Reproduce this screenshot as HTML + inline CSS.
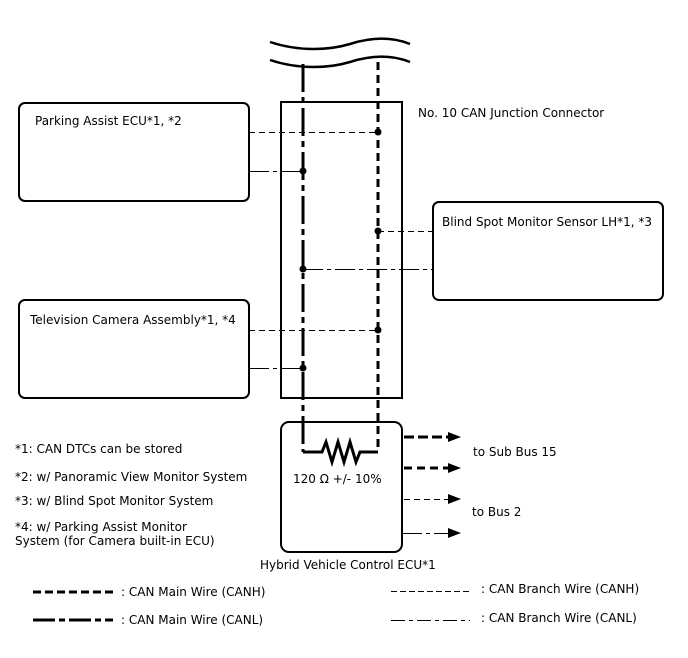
<!DOCTYPE html>
<html><head><meta charset="utf-8"><style>
body{margin:0;background:#fff}
svg{display:block}
text{font-family:"DejaVu Sans","Liberation Sans",sans-serif;font-size:12px;fill:#000}
</style></head><body>
<svg width="688" height="658" viewBox="0 0 688 658" xmlns="http://www.w3.org/2000/svg">
<g fill="none" stroke="#000">
<path d="M270 42 C300 52 330 50 350 44 C375 36 395 38 410 44" stroke-width="2.5"/>
<path d="M270 60 C300 70 330 68 350 62 C375 54 395 56 410 62" stroke-width="2.5"/>
<rect x="281" y="102" width="121" height="296" stroke-width="2"/>
<rect x="19" y="103" width="230" height="98" rx="6" stroke-width="2"/>
<rect x="433" y="202" width="230" height="98" rx="6" stroke-width="2"/>
<rect x="19" y="300" width="230" height="98" rx="6" stroke-width="2"/>
<rect x="281" y="422" width="121" height="130" rx="8" stroke-width="2"/>
<path d="M303 64 V452" stroke-width="3" stroke-dasharray="28 5 6 5"/>
<path d="M378 62 V452" stroke-width="3" stroke-dasharray="8 5"/>
<path d="M303 452 H322 l4 -10 l6 20 l6 -20 l6 20 l6 -20 l6 20 l4 -10 H378" stroke-width="3" stroke-linejoin="miter"/>
<g stroke-width="1.2" shape-rendering="crispEdges">
<path d="M249 132.5 H378" stroke-dasharray="6 4"/>
<path d="M249 171.5 H303" stroke-dasharray="20 4 4 4"/>
<path d="M378 231.5 H433" stroke-dasharray="6 4"/>
<path d="M303 269.5 H433" stroke-dasharray="20 4 4 4"/>
<path d="M249 330.5 H378" stroke-dasharray="6 4"/>
<path d="M249 368.5 H303" stroke-dasharray="20 4 4 4"/>
<path d="M404 499.5 H448" stroke-dasharray="6 4"/>
<path d="M402 533.5 H448" stroke-dasharray="20 4 4 4"/>
<path d="M391 591.5 H470" stroke-dasharray="6 3"/>
<path d="M391 620.5 H470" stroke-dasharray="14 4 4 4"/>
</g>
<path d="M404 437 H448" stroke-width="3" stroke-dasharray="10 4"/>
<path d="M404 468 H448" stroke-width="3" stroke-dasharray="8 5"/>
<path d="M33 592 H113" stroke-width="3" stroke-dasharray="8 4"/>
<path d="M33 620 H113" stroke-width="3" stroke-dasharray="22 4 6 4"/>
</g>
<g fill="#000">
<circle cx="378" cy="132" r="3.5"/><circle cx="303" cy="171" r="3.5"/>
<circle cx="378" cy="231" r="3.5"/><circle cx="303" cy="269" r="3.5"/>
<circle cx="378" cy="330" r="3.5"/><circle cx="303" cy="368" r="3.5"/>
<path d="M448 432 L461 437 L448 442Z"/><path d="M448 463 L461 468 L448 473Z"/>
<path d="M448 494 L461 499 L448 504Z"/><path d="M448 528 L461 533 L448 538Z"/>
</g>
<text x="35" y="125">Parking Assist ECU*1, *2</text>
<text x="418" y="117">No. 10 CAN Junction Connector</text>
<text x="442" y="226">Blind Spot Monitor Sensor LH*1, *3</text>
<text x="30" y="324">Television Camera Assembly*1, *4</text>
<text x="293" y="483">120 Ω +/- 10%</text>
<text x="473" y="456">to Sub Bus 15</text>
<text x="472" y="516">to Bus 2</text>
<text x="260" y="569">Hybrid Vehicle Control ECU*1</text>
<text x="15" y="453">*1: CAN DTCs can be stored</text>
<text x="15" y="481">*2: w/ Panoramic View Monitor System</text>
<text x="15" y="505">*3: w/ Blind Spot Monitor System</text>
<text x="15" y="531">*4: w/ Parking Assist Monitor</text>
<text x="15" y="545">System (for Camera built-in ECU)</text>
<text x="121" y="596">: CAN Main Wire (CANH)</text>
<text x="121" y="624">: CAN Main Wire (CANL)</text>
<text x="481" y="593">: CAN Branch Wire (CANH)</text>
<text x="481" y="622">: CAN Branch Wire (CANL)</text>
</svg>
</body></html>
